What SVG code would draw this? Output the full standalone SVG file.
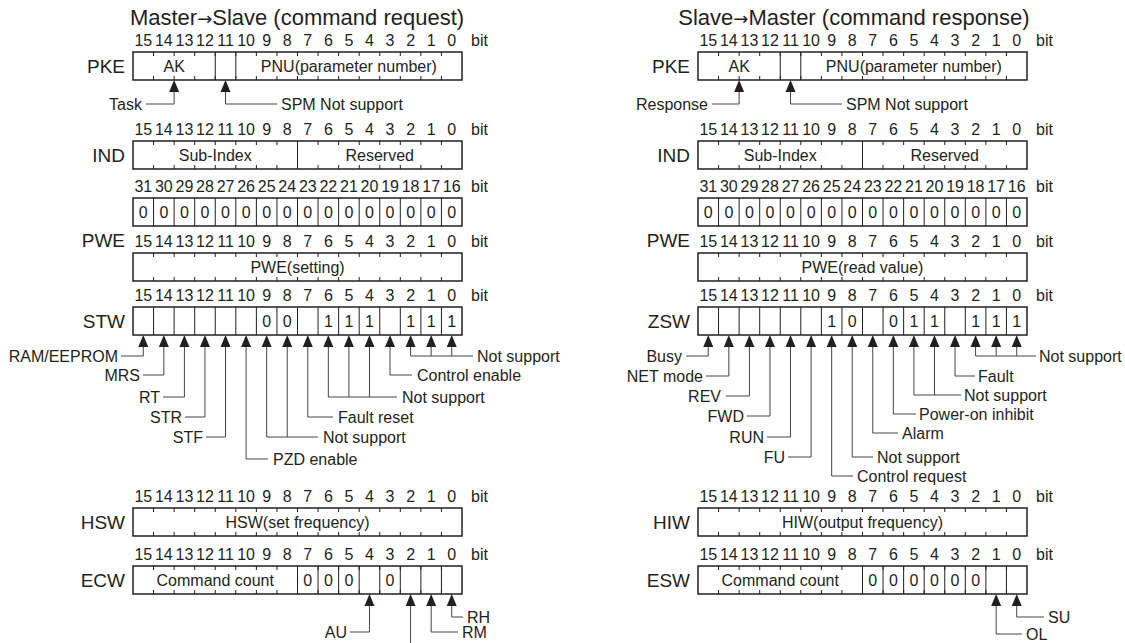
<svg xmlns="http://www.w3.org/2000/svg" xmlns:xlink="http://www.w3.org/1999/xlink" width="1125" height="643" viewBox="0 0 1125 643">
<style>
text{font-family:"Liberation Sans",Arial,sans-serif;fill:#231f20}
.title{font-size:22px;text-anchor:middle}
.arr{font-family:"DejaVu Sans",sans-serif;font-size:18px}
.n{font-size:16px;text-anchor:middle}
.bit{font-size:16px}
.lbl{font-size:19px;text-anchor:end}
.f{font-size:16px;text-anchor:middle}
.a{font-size:16px}
.ae{font-size:16px;text-anchor:end}
.box{fill:#fff;stroke:#231f20;stroke-width:1.5}
.tk{fill:none;stroke:#231f20;stroke-width:1}
.ld{fill:none;stroke:#444;stroke-width:1}
</style>
<defs>
<path id="t16" fill="none" stroke="#231f20" stroke-width="1" d="M20.56 0v4M41.13 0v4M61.69 0v4M82.25 0v4M102.81 0v4M123.38 0v4M143.94 0v4M164.5 0v4M185.06 0v4M205.63 0v4M226.19 0v4M246.75 0v4M267.31 0v4M287.88 0v4M308.44 0v4M20.56 28v-4M41.13 28v-4M61.69 28v-4M82.25 28v-4M102.81 28v-4M123.38 28v-4M143.94 28v-4M164.5 28v-4M185.06 28v-4M205.63 28v-4M226.19 28v-4M246.75 28v-4M267.31 28v-4M287.88 28v-4M308.44 28v-4"/>
<path id="d16" fill="none" stroke="#231f20" stroke-width="1" d="M20.56 0v28M41.13 0v28M61.69 0v28M82.25 0v28M102.81 0v28M123.38 0v28M143.94 0v28M164.5 0v28M185.06 0v28M205.63 0v28M226.19 0v28M246.75 0v28M267.31 0v28M287.88 0v28M308.44 0v28"/>
<path id="d8" fill="none" stroke="#231f20" stroke-width="1" d="M164.5 0v28M185.06 0v28M205.63 0v28M226.19 0v28M246.75 0v28M267.31 0v28M287.88 0v28M308.44 0v28"/>
<path id="ah" fill="#231f20" d="M0 0L5 12H-5Z"/>
</defs>
<rect width="1125" height="643" fill="#fff"/>

<g id="titles">
<text class="title" x="297" y="25">Master<tspan class="arr">→</tspan>Slave (command request)</text>
<text class="title" x="854" y="25">Slave<tspan class="arr">→</tspan>Master (command response)</text>
</g>

<!-- LEFT SIDE -->
<g id="pke-left">
<text class="n" y="46"><tspan x="143.28">15</tspan><tspan x="163.84">14</tspan><tspan x="184.41">13</tspan><tspan x="204.97">12</tspan><tspan x="225.53">11</tspan><tspan x="246.09">10</tspan><tspan x="266.66">9</tspan><tspan x="287.22">8</tspan><tspan x="307.78">7</tspan><tspan x="328.34">6</tspan><tspan x="348.91">5</tspan><tspan x="369.47">4</tspan><tspan x="390.03">3</tspan><tspan x="410.59">2</tspan><tspan x="431.16">1</tspan><tspan x="451.72">0</tspan></text>
<text class="bit" x="471" y="46">bit</text>
<text class="lbl" x="125" y="72.5">PKE</text>
<rect class="box" x="133" y="52" width="329" height="28"/>
<use xlink:href="#t16" href="#t16" x="133" y="52"/>
<path class="tk" d="M215.25 52v28M235.81 52v28"/>
<text class="f" x="174.13" y="71.5">AK</text>
<text class="f" x="348.9" y="71.5">PNU(parameter number)</text>
</g>

<g id="ind-left">
<text class="n" y="135"><tspan x="143.28">15</tspan><tspan x="163.84">14</tspan><tspan x="184.41">13</tspan><tspan x="204.97">12</tspan><tspan x="225.53">11</tspan><tspan x="246.09">10</tspan><tspan x="266.66">9</tspan><tspan x="287.22">8</tspan><tspan x="307.78">7</tspan><tspan x="328.34">6</tspan><tspan x="348.91">5</tspan><tspan x="369.47">4</tspan><tspan x="390.03">3</tspan><tspan x="410.59">2</tspan><tspan x="431.16">1</tspan><tspan x="451.72">0</tspan></text>
<text class="bit" x="471" y="135">bit</text>
<text class="lbl" x="125" y="161.5">IND</text>
<rect class="box" x="133" y="141" width="329" height="28"/>
<use xlink:href="#t16" href="#t16" x="133" y="141"/>
<path class="tk" d="M297.5 141v28"/>
<text class="f" x="215.25" y="160.5">Sub-Index</text>
<text class="f" x="379.75" y="160.5">Reserved</text>
</g>

<g id="pwe-left">
<text class="n" y="192"><tspan x="143.28">31</tspan><tspan x="163.84">30</tspan><tspan x="184.41">29</tspan><tspan x="204.97">28</tspan><tspan x="225.53">27</tspan><tspan x="246.09">26</tspan><tspan x="266.66">25</tspan><tspan x="287.22">24</tspan><tspan x="307.78">23</tspan><tspan x="328.34">22</tspan><tspan x="348.91">21</tspan><tspan x="369.47">20</tspan><tspan x="390.03">19</tspan><tspan x="410.59">18</tspan><tspan x="431.16">17</tspan><tspan x="451.72">16</tspan></text>
<text class="bit" x="471" y="192">bit</text>
<rect class="box" x="133" y="198" width="329" height="28"/>
<use xlink:href="#d16" href="#d16" x="133" y="198"/>
<text class="f" y="218"><tspan x="143.28">0</tspan><tspan x="163.84">0</tspan><tspan x="184.41">0</tspan><tspan x="204.97">0</tspan><tspan x="225.53">0</tspan><tspan x="246.09">0</tspan><tspan x="266.66">0</tspan><tspan x="287.22">0</tspan><tspan x="307.78">0</tspan><tspan x="328.34">0</tspan><tspan x="348.91">0</tspan><tspan x="369.47">0</tspan><tspan x="390.03">0</tspan><tspan x="410.59">0</tspan><tspan x="431.16">0</tspan><tspan x="451.72">0</tspan></text>
<text class="lbl" x="125" y="247">PWE</text>
<text class="n" y="247"><tspan x="143.28">15</tspan><tspan x="163.84">14</tspan><tspan x="184.41">13</tspan><tspan x="204.97">12</tspan><tspan x="225.53">11</tspan><tspan x="246.09">10</tspan><tspan x="266.66">9</tspan><tspan x="287.22">8</tspan><tspan x="307.78">7</tspan><tspan x="328.34">6</tspan><tspan x="348.91">5</tspan><tspan x="369.47">4</tspan><tspan x="390.03">3</tspan><tspan x="410.59">2</tspan><tspan x="431.16">1</tspan><tspan x="451.72">0</tspan></text>
<text class="bit" x="471" y="247">bit</text>
<rect class="box" x="133" y="253" width="329" height="28"/>
<use xlink:href="#t16" href="#t16" x="133" y="253"/>
<text class="f" x="297.5" y="272.5">PWE(setting)</text>
</g>

<g id="stw-left">
<text class="n" y="301"><tspan x="143.28">15</tspan><tspan x="163.84">14</tspan><tspan x="184.41">13</tspan><tspan x="204.97">12</tspan><tspan x="225.53">11</tspan><tspan x="246.09">10</tspan><tspan x="266.66">9</tspan><tspan x="287.22">8</tspan><tspan x="307.78">7</tspan><tspan x="328.34">6</tspan><tspan x="348.91">5</tspan><tspan x="369.47">4</tspan><tspan x="390.03">3</tspan><tspan x="410.59">2</tspan><tspan x="431.16">1</tspan><tspan x="451.72">0</tspan></text>
<text class="bit" x="471" y="301">bit</text>
<text class="lbl" x="125" y="327.5">STW</text>
<rect class="box" x="133" y="307" width="329" height="28"/>
<use xlink:href="#d16" href="#d16" x="133" y="307"/>
<text class="f" y="327"><tspan x="266.66">0</tspan><tspan x="287.22">0</tspan><tspan x="328.34">1</tspan><tspan x="348.91">1</tspan><tspan x="369.47">1</tspan><tspan x="410.59">1</tspan><tspan x="431.16">1</tspan><tspan x="451.72">1</tspan></text>
</g>

<g id="hsw-left">
<text class="n" y="502"><tspan x="143.28">15</tspan><tspan x="163.84">14</tspan><tspan x="184.41">13</tspan><tspan x="204.97">12</tspan><tspan x="225.53">11</tspan><tspan x="246.09">10</tspan><tspan x="266.66">9</tspan><tspan x="287.22">8</tspan><tspan x="307.78">7</tspan><tspan x="328.34">6</tspan><tspan x="348.91">5</tspan><tspan x="369.47">4</tspan><tspan x="390.03">3</tspan><tspan x="410.59">2</tspan><tspan x="431.16">1</tspan><tspan x="451.72">0</tspan></text>
<text class="bit" x="471" y="502">bit</text>
<text class="lbl" x="125" y="528.5">HSW</text>
<rect class="box" x="133" y="508" width="329" height="28"/>
<use xlink:href="#t16" href="#t16" x="133" y="508"/>
<text class="f" x="297.5" y="527.5">HSW(set frequency)</text>
</g>

<g id="ecw-left">
<text class="n" y="560"><tspan x="143.28">15</tspan><tspan x="163.84">14</tspan><tspan x="184.41">13</tspan><tspan x="204.97">12</tspan><tspan x="225.53">11</tspan><tspan x="246.09">10</tspan><tspan x="266.66">9</tspan><tspan x="287.22">8</tspan><tspan x="307.78">7</tspan><tspan x="328.34">6</tspan><tspan x="348.91">5</tspan><tspan x="369.47">4</tspan><tspan x="390.03">3</tspan><tspan x="410.59">2</tspan><tspan x="431.16">1</tspan><tspan x="451.72">0</tspan></text>
<text class="bit" x="471" y="560">bit</text>
<text class="lbl" x="125" y="586.5">ECW</text>
<rect class="box" x="133" y="566" width="329" height="28"/>
<use xlink:href="#t16" href="#t16" x="133" y="566"/>
<use xlink:href="#d8" href="#d8" x="133" y="566"/>
<text class="f" x="215.25" y="585.5">Command count</text>
<text class="f" y="586"><tspan x="307.78">0</tspan><tspan x="328.34">0</tspan><tspan x="348.91">0</tspan><tspan x="390.03">0</tspan></text>
</g>

<!-- RIGHT SIDE -->
<g id="pke-right">
<text class="n" y="46"><tspan x="708.28">15</tspan><tspan x="728.84">14</tspan><tspan x="749.41">13</tspan><tspan x="769.97">12</tspan><tspan x="790.53">11</tspan><tspan x="811.09">10</tspan><tspan x="831.66">9</tspan><tspan x="852.22">8</tspan><tspan x="872.78">7</tspan><tspan x="893.34">6</tspan><tspan x="913.91">5</tspan><tspan x="934.47">4</tspan><tspan x="955.03">3</tspan><tspan x="975.59">2</tspan><tspan x="996.16">1</tspan><tspan x="1016.72">0</tspan></text>
<text class="bit" x="1036" y="46">bit</text>
<text class="lbl" x="690" y="72.5">PKE</text>
<rect class="box" x="698" y="52" width="329" height="28"/>
<use xlink:href="#t16" href="#t16" x="698" y="52"/>
<path class="tk" d="M780.25 52v28M800.81 52v28"/>
<text class="f" x="739.13" y="71.5">AK</text>
<text class="f" x="913.9" y="71.5">PNU(parameter number)</text>
</g>

<g id="ind-right">
<text class="n" y="135"><tspan x="708.28">15</tspan><tspan x="728.84">14</tspan><tspan x="749.41">13</tspan><tspan x="769.97">12</tspan><tspan x="790.53">11</tspan><tspan x="811.09">10</tspan><tspan x="831.66">9</tspan><tspan x="852.22">8</tspan><tspan x="872.78">7</tspan><tspan x="893.34">6</tspan><tspan x="913.91">5</tspan><tspan x="934.47">4</tspan><tspan x="955.03">3</tspan><tspan x="975.59">2</tspan><tspan x="996.16">1</tspan><tspan x="1016.72">0</tspan></text>
<text class="bit" x="1036" y="135">bit</text>
<text class="lbl" x="690" y="161.5">IND</text>
<rect class="box" x="698" y="141" width="329" height="28"/>
<use xlink:href="#t16" href="#t16" x="698" y="141"/>
<path class="tk" d="M862.5 141v28"/>
<text class="f" x="780.25" y="160.5">Sub-Index</text>
<text class="f" x="944.75" y="160.5">Reserved</text>
</g>

<g id="pwe-right">
<text class="n" y="192"><tspan x="708.28">31</tspan><tspan x="728.84">30</tspan><tspan x="749.41">29</tspan><tspan x="769.97">28</tspan><tspan x="790.53">27</tspan><tspan x="811.09">26</tspan><tspan x="831.66">25</tspan><tspan x="852.22">24</tspan><tspan x="872.78">23</tspan><tspan x="893.34">22</tspan><tspan x="913.91">21</tspan><tspan x="934.47">20</tspan><tspan x="955.03">19</tspan><tspan x="975.59">18</tspan><tspan x="996.16">17</tspan><tspan x="1016.72">16</tspan></text>
<text class="bit" x="1036" y="192">bit</text>
<rect class="box" x="698" y="198" width="329" height="28"/>
<use xlink:href="#d16" href="#d16" x="698" y="198"/>
<text class="f" y="218"><tspan x="708.28">0</tspan><tspan x="728.84">0</tspan><tspan x="749.41">0</tspan><tspan x="769.97">0</tspan><tspan x="790.53">0</tspan><tspan x="811.09">0</tspan><tspan x="831.66">0</tspan><tspan x="852.22">0</tspan><tspan x="872.78">0</tspan><tspan x="893.34">0</tspan><tspan x="913.91">0</tspan><tspan x="934.47">0</tspan><tspan x="955.03">0</tspan><tspan x="975.59">0</tspan><tspan x="996.16">0</tspan><tspan x="1016.72">0</tspan></text>
<text class="lbl" x="690" y="247">PWE</text>
<text class="n" y="247"><tspan x="708.28">15</tspan><tspan x="728.84">14</tspan><tspan x="749.41">13</tspan><tspan x="769.97">12</tspan><tspan x="790.53">11</tspan><tspan x="811.09">10</tspan><tspan x="831.66">9</tspan><tspan x="852.22">8</tspan><tspan x="872.78">7</tspan><tspan x="893.34">6</tspan><tspan x="913.91">5</tspan><tspan x="934.47">4</tspan><tspan x="955.03">3</tspan><tspan x="975.59">2</tspan><tspan x="996.16">1</tspan><tspan x="1016.72">0</tspan></text>
<text class="bit" x="1036" y="247">bit</text>
<rect class="box" x="698" y="253" width="329" height="28"/>
<use xlink:href="#t16" href="#t16" x="698" y="253"/>
<text class="f" x="862.5" y="272.5">PWE(read value)</text>
</g>

<g id="zsw-right">
<text class="n" y="301"><tspan x="708.28">15</tspan><tspan x="728.84">14</tspan><tspan x="749.41">13</tspan><tspan x="769.97">12</tspan><tspan x="790.53">11</tspan><tspan x="811.09">10</tspan><tspan x="831.66">9</tspan><tspan x="852.22">8</tspan><tspan x="872.78">7</tspan><tspan x="893.34">6</tspan><tspan x="913.91">5</tspan><tspan x="934.47">4</tspan><tspan x="955.03">3</tspan><tspan x="975.59">2</tspan><tspan x="996.16">1</tspan><tspan x="1016.72">0</tspan></text>
<text class="bit" x="1036" y="301">bit</text>
<text class="lbl" x="690" y="327.5">ZSW</text>
<rect class="box" x="698" y="307" width="329" height="28"/>
<use xlink:href="#d16" href="#d16" x="698" y="307"/>
<text class="f" y="327"><tspan x="831.66">1</tspan><tspan x="852.22">0</tspan><tspan x="893.34">0</tspan><tspan x="913.91">1</tspan><tspan x="934.47">1</tspan><tspan x="975.59">1</tspan><tspan x="996.16">1</tspan><tspan x="1016.72">1</tspan></text>
</g>

<g id="hiw-right">
<text class="n" y="502"><tspan x="708.28">15</tspan><tspan x="728.84">14</tspan><tspan x="749.41">13</tspan><tspan x="769.97">12</tspan><tspan x="790.53">11</tspan><tspan x="811.09">10</tspan><tspan x="831.66">9</tspan><tspan x="852.22">8</tspan><tspan x="872.78">7</tspan><tspan x="893.34">6</tspan><tspan x="913.91">5</tspan><tspan x="934.47">4</tspan><tspan x="955.03">3</tspan><tspan x="975.59">2</tspan><tspan x="996.16">1</tspan><tspan x="1016.72">0</tspan></text>
<text class="bit" x="1036" y="502">bit</text>
<text class="lbl" x="690" y="528.5">HIW</text>
<rect class="box" x="698" y="508" width="329" height="28"/>
<use xlink:href="#t16" href="#t16" x="698" y="508"/>
<text class="f" x="862.5" y="527.5">HIW(output frequency)</text>
</g>

<g id="esw-right">
<text class="n" y="560"><tspan x="708.28">15</tspan><tspan x="728.84">14</tspan><tspan x="749.41">13</tspan><tspan x="769.97">12</tspan><tspan x="790.53">11</tspan><tspan x="811.09">10</tspan><tspan x="831.66">9</tspan><tspan x="852.22">8</tspan><tspan x="872.78">7</tspan><tspan x="893.34">6</tspan><tspan x="913.91">5</tspan><tspan x="934.47">4</tspan><tspan x="955.03">3</tspan><tspan x="975.59">2</tspan><tspan x="996.16">1</tspan><tspan x="1016.72">0</tspan></text>
<text class="bit" x="1036" y="560">bit</text>
<text class="lbl" x="690" y="586.5">ESW</text>
<rect class="box" x="698" y="566" width="329" height="28"/>
<use xlink:href="#t16" href="#t16" x="698" y="566"/>
<use xlink:href="#d8" href="#d8" x="698" y="566"/>
<text class="f" x="780.25" y="585.5">Command count</text>
<text class="f" y="586"><tspan x="872.78">0</tspan><tspan x="893.34">0</tspan><tspan x="913.91">0</tspan><tspan x="934.47">0</tspan><tspan x="955.03">0</tspan><tspan x="975.59">0</tspan></text>
</g>

<g id="connectors">
<use xlink:href="#ah" href="#ah" x="174.13" y="80"/>
<use xlink:href="#ah" href="#ah" x="225.53" y="80"/>
<use xlink:href="#ah" href="#ah" x="739.13" y="80"/>
<use xlink:href="#ah" href="#ah" x="790.53" y="80"/>
<path class="ld" d="M174.13 92V104H146M225.53 92V104H277M739.13 92V104H712M790.53 92V104H842"/>
<use xlink:href="#ah" href="#ah" x="143.28" y="335"/><use xlink:href="#ah" href="#ah" x="163.84" y="335"/><use xlink:href="#ah" href="#ah" x="184.41" y="335"/><use xlink:href="#ah" href="#ah" x="204.97" y="335"/><use xlink:href="#ah" href="#ah" x="225.53" y="335"/><use xlink:href="#ah" href="#ah" x="246.09" y="335"/><use xlink:href="#ah" href="#ah" x="266.66" y="335"/><use xlink:href="#ah" href="#ah" x="287.22" y="335"/><use xlink:href="#ah" href="#ah" x="307.78" y="335"/><use xlink:href="#ah" href="#ah" x="328.34" y="335"/><use xlink:href="#ah" href="#ah" x="348.91" y="335"/><use xlink:href="#ah" href="#ah" x="369.47" y="335"/><use xlink:href="#ah" href="#ah" x="390.03" y="335"/><use xlink:href="#ah" href="#ah" x="410.59" y="335"/><use xlink:href="#ah" href="#ah" x="431.16" y="335"/><use xlink:href="#ah" href="#ah" x="451.72" y="335"/>
<path class="ld" d="M143.28 347V356H121M163.84 347V375H143M184.41 347V397H163M204.97 347V417H185M225.53 347V437H206M246.09 347V459H268M266.66 347V437H318M287.22 347V437M307.78 347V417H333M328.34 347V397H397M348.91 347V397M369.47 347V397M390.03 347V375H412M410.59 347V356H473M431.16 347V356M451.72 347V356"/>
<use xlink:href="#ah" href="#ah" x="708.28" y="335"/><use xlink:href="#ah" href="#ah" x="728.84" y="335"/><use xlink:href="#ah" href="#ah" x="749.41" y="335"/><use xlink:href="#ah" href="#ah" x="769.97" y="335"/><use xlink:href="#ah" href="#ah" x="790.53" y="335"/><use xlink:href="#ah" href="#ah" x="811.09" y="335"/><use xlink:href="#ah" href="#ah" x="831.66" y="335"/><use xlink:href="#ah" href="#ah" x="852.22" y="335"/><use xlink:href="#ah" href="#ah" x="872.78" y="335"/><use xlink:href="#ah" href="#ah" x="893.34" y="335"/><use xlink:href="#ah" href="#ah" x="913.91" y="335"/><use xlink:href="#ah" href="#ah" x="934.47" y="335"/><use xlink:href="#ah" href="#ah" x="955.03" y="335"/><use xlink:href="#ah" href="#ah" x="975.59" y="335"/><use xlink:href="#ah" href="#ah" x="996.16" y="335"/><use xlink:href="#ah" href="#ah" x="1016.72" y="335"/>
<path class="ld" d="M708.28 347V356H686M728.84 347V376H706M749.41 347V396H726M769.97 347V416H747M790.53 347V437H767M811.09 347V457H788M831.66 347V476H853M852.22 347V457H873M872.78 347V433H898M893.34 347V414H916M913.91 347V395H961M934.47 347V395M955.03 347V376H975M975.59 347V356H1036M996.16 347V356M1016.72 347V356"/>
<use xlink:href="#ah" href="#ah" x="369.47" y="594"/><use xlink:href="#ah" href="#ah" x="410.59" y="594"/><use xlink:href="#ah" href="#ah" x="431.16" y="594"/><use xlink:href="#ah" href="#ah" x="451.72" y="594"/>
<path class="ld" d="M369.47 606V632H350M410.59 606V643M431.16 606V632H458M451.72 606V617H463"/>
<use xlink:href="#ah" href="#ah" x="996.16" y="594"/><use xlink:href="#ah" href="#ah" x="1016.72" y="594"/>
<path class="ld" d="M996.16 606V634H1022M1016.72 606V617H1044"/>
</g>

<g id="connector-labels">
<text class="ae" x="142" y="109.5">Task</text>
<text class="a" x="281" y="109.5">SPM Not support</text>
<text class="ae" x="708" y="109.5">Response</text>
<text class="a" x="846" y="109.5">SPM Not support</text>

<text class="ae" x="118" y="361.5">RAM/EEPROM</text>
<text class="ae" x="140" y="380.5">MRS</text>
<text class="ae" x="160" y="402.5">RT</text>
<text class="ae" x="182" y="422.5">STR</text>
<text class="ae" x="203" y="442.5">STF</text>
<text class="a" x="273" y="464.5">PZD enable</text>
<text class="a" x="323" y="442.5">Not support</text>
<text class="a" x="338" y="422.5">Fault reset</text>
<text class="a" x="402" y="402.5">Not support</text>
<text class="a" x="417" y="380.5">Control enable</text>
<text class="a" x="477" y="361.5">Not support</text>

<text class="ae" x="682" y="361.5">Busy</text>
<text class="ae" x="703" y="381.5">NET mode</text>
<text class="ae" x="721" y="401.5">REV</text>
<text class="ae" x="744" y="421.5">FWD</text>
<text class="ae" x="764" y="442.5">RUN</text>
<text class="ae" x="785" y="462.5">FU</text>
<text class="a" x="857" y="481.5">Control request</text>
<text class="a" x="877" y="462.5">Not support</text>
<text class="a" x="902" y="438.5">Alarm</text>
<text class="a" x="919" y="419.5">Power-on inhibit</text>
<text class="a" x="964" y="400.5">Not support</text>
<text class="a" x="978" y="381.5">Fault</text>
<text class="a" x="1039" y="361.5">Not support</text>

<text class="ae" x="347" y="637.5">AU</text>
<text class="a" x="462" y="637.5">RM</text>
<text class="a" x="467" y="622.5">RH</text>
<text class="a" x="1026" y="639.5">OL</text>
<text class="a" x="1048" y="622.5">SU</text>
</g>
</svg>
